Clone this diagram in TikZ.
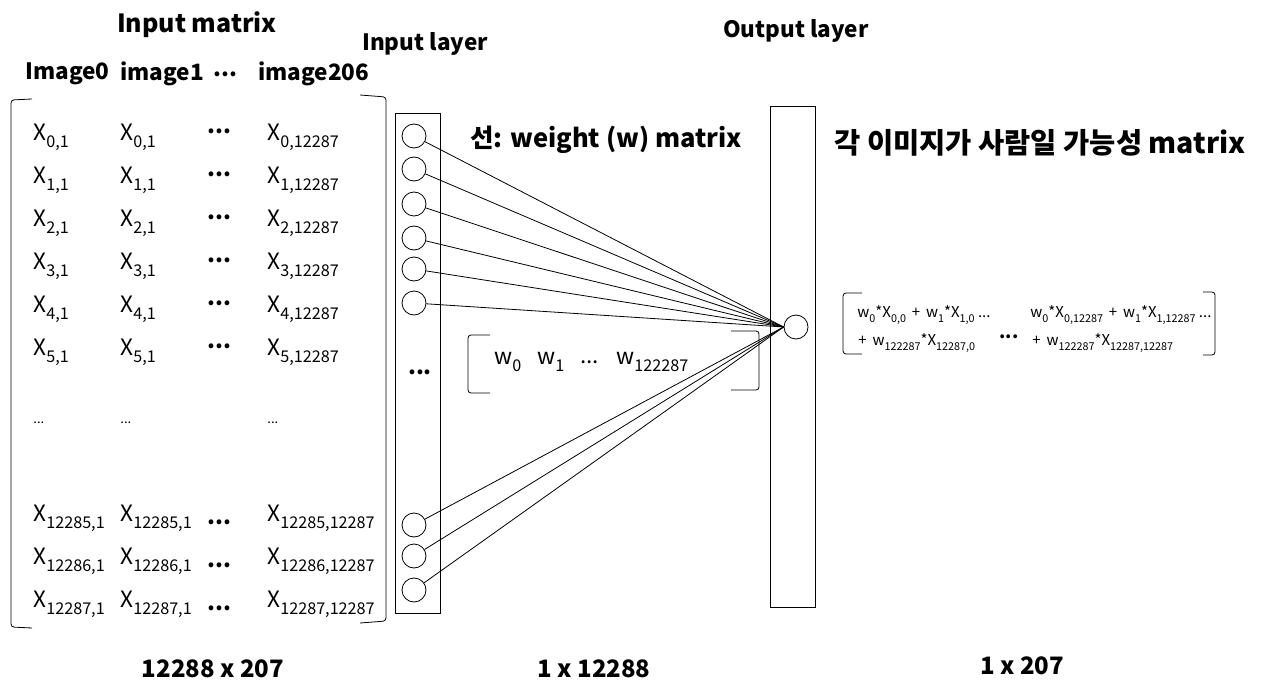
\documentclass[tikz,border=0pt]{standalone}
\usepackage{fontspec}
\setmainfont{Noto Sans CJK KR}
\usetikzlibrary{positioning}
\newcommand{\sbs}[1]{\raisebox{-0.3em}{\scalebox{0.72}{#1}}}
\newcommand{\xe}[1]{X\sbs{#1}}
\newcommand{\we}[1]{w\sbs{#1}}

\begin{document}
\begin{tikzpicture}[x=1pt,y=-1pt,line width=0.8pt,
	title/.style={font=\fontsize{25}{25}\selectfont\bfseries},
	head/.style={font=\fontsize{22.5}{22.5}\selectfont\bfseries,anchor=west,inner sep=0pt},
	entry/.style={font=\fontsize{22.5}{22.5}\selectfont,anchor=west,inner sep=0pt},
	tiny/.style={font=\fontsize{15}{15}\selectfont,anchor=west,inner sep=0pt},
	neuron/.style={draw,circle,minimum size=24pt,inner sep=0pt},
	layer/.style={draw,minimum width=45pt,inner sep=0pt},
	bracket/.style={rounded corners=3pt}]
	\useasboundingbox (0,0) rectangle (1277,698);

	% Titels
	\node[title] (tmat) at (197,25) {Input matrix};
	\node[head] (h0) at (25,74) {Image0};
	\node[head] (h1) at (120,74) {image1};
	\node[head] (h2) at (213,74) {...};
	\node[head] (h3) at (258,74) {image206};
	\node[title,font=\fontsize{22.5}{22.5}\selectfont\bfseries] (tin) at (425,44) {Input layer};
	\node[title,font=\fontsize{22.5}{22.5}\selectfont\bfseries] (tout) at (796,31) {Output layer};
	\node[title,font=\fontsize{25.5}{25.5}\selectfont\bfseries] (tw) at (606,140) {선: weight (w) matrix};
	\node[title,font=\fontsize{28.5}{28.5}\selectfont\bfseries] (tp) at (1040,143) {각 이미지가 사람일 가능성 matrix};

	% Input matrix
	\draw[bracket] (32,99) -- (11,100) -- (11,627) -- (32,628);
	\draw[bracket] (360,95) -- (386,97) -- (386,621) -- (360,623);
	\foreach \r in {0,...,5} {
		\node[entry] (a\r) at (33,{137+43*\r}) {\xe{\r,1}};
		\node[entry] (b\r) at (120,{137+43*\r}) {\xe{\r,1}};
		\node[entry] (c\r) at (207,{131+43*\r}) {\textbf{...}};
		\node[entry] (d\r) at (267,{137+43*\r}) {\xe{\r,12287}};
	}
	\node[tiny,font=\fontsize{13}{13}\selectfont] (ad) at (33,423) {...};
	\node[tiny,font=\fontsize{13}{13}\selectfont] (bd) at (120,423) {...};
	\node[tiny,font=\fontsize{13}{13}\selectfont] (dd) at (267,423) {...};
	\foreach \r [count=\k from 0] in {12285,12286,12287} {
		\node[entry] (e\k) at (33,{518+43*\k}) {\xe{\r,1}};
		\node[entry] (f\k) at (120,{518+43*\k}) {\xe{\r,1}};
		\node[entry] (g\k) at (207,{522+43*\k}) {\textbf{...}};
		\node[entry] (h\k) at (267,{518+43*\k}) {\xe{\r,12287}};
	}

	% Input layer en output layer
	\node[layer,minimum height=500pt] (inlayer) at (418,363) {};
	\node[layer,minimum height=501pt] (outlayer) at (793,356.5) {};
	\foreach \n/\y in {1/136,2/169,3/204,4/238,5/269,6/303,7/525,8/556,9/590}
		\node[neuron] (i\n) at (414,\y) {};
	\node[entry,anchor=center] (idots) at (420,372) {\textbf{...}};
	\node[neuron] (out) at (796,327) {};

	% Gewichten
	\foreach \n in {1,...,9}
		\draw (i\n) -- (out.west);
	\draw[bracket] (490,335) -- (468,335) -- (468,393) -- (490,393);
	\draw[bracket] (731,331) -- (759,331) -- (759,390) -- (731,390);
	\node[entry] (w0) at (494,362) {\we{0}};
	\node[entry] (w1) at (537,362) {\we{1}};
	\node[entry] (wd) at (580,362) {...};
	\node[entry] (wn) at (616,362) {\we{122287}};

	% Output matrix
	\draw[bracket] (862,293) -- (843,293) -- (843,354) -- (862,354);
	\draw[bracket] (1203,292) -- (1215,292) -- (1215,355) -- (1203,355);
	\node[tiny] (p1) at (857,315) {\we{0}*\xe{0,0} \,+\, \we{1}*\xe{1,0} ...};
	\node[tiny] (p2) at (1030,315) {\we{0}*\xe{0,12287} \,+\, \we{1}*\xe{1,12287} ...};
	\node[tiny] (q1) at (858,343) {+\, \we{122287}*\xe{12287,0}};
	\node[tiny,font=\fontsize{18}{18}\selectfont\bfseries] (qd) at (999,337) {...};
	\node[tiny] (q2) at (1032,343) {+\, \we{122287}*\xe{12287,12287}};

	% Afmetingen
	\node[title,font=\fontsize{24}{24}\selectfont\bfseries] (dmat) at (213,669) {12288 x 207};
	\node[title,font=\fontsize{24}{24}\selectfont\bfseries] (din) at (594,669) {1 x 12288};
	\node[title,font=\fontsize{24}{24}\selectfont\bfseries] (dout) at (1022,666) {1 x 207};
\end{tikzpicture}
\end{document}
